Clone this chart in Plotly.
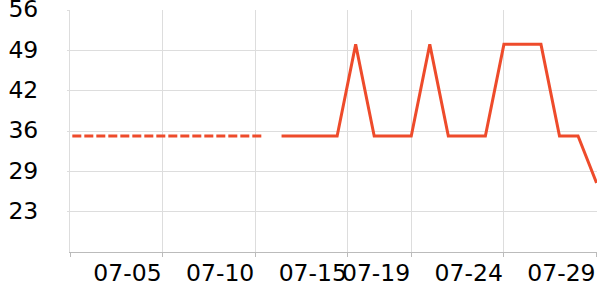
import plotly.graph_objects as go

# Data
dashed_dates = ["2024-06-30 17:00", "2024-07-11 00:00"]
dashed_values = [35, 35]

solid_dates = ["2024-07-%02d" % d for d in range(12, 30)]
solid_values = [35, 35, 35, 35, 50, 35, 35, 35, 50, 35, 35, 35, 50, 50, 50, 35, 35, 27.3]

tick_dates = ["2024-06-30 14:00", "2024-07-05 14:00", "2024-07-10 14:00",
              "2024-07-15 14:00", "2024-07-19", "2024-07-24", "2024-07-29"]
tick_labels = ["", "07-05", "07-10", "07-15", "07-19", "07-24", "07-29"]

y_ticks = [22.6, 29.2, 35.8, 42.4, 49.0, 55.6]

color = "#ee4b2b"

fig = go.Figure()
fig.add_trace(go.Scatter(x=dashed_dates, y=dashed_values, mode="lines",
                         line=dict(color=color, width=3, dash="9px,3px"),
                         hoverinfo="skip", showlegend=False))
fig.add_trace(go.Scatter(x=solid_dates, y=solid_values, mode="lines",
                         line=dict(color=color, width=3),
                         showlegend=False))

font = dict(family="DejaVu Sans", size=23.5, color="#000")
fig.update_layout(
    width=600, height=300,
    margin=dict(l=70, r=3, t=10, b=47.5, pad=0),
    paper_bgcolor="white", plot_bgcolor="white",
    xaxis=dict(type="date", range=["2024-06-30 14:00", "2024-07-29 00:34"],
               tickvals=tick_dates, ticktext=tick_labels,
               ticklabelposition="outside left", tickangle=0,
               showgrid=True, gridcolor="#dddddd", gridwidth=1,
               showline=True, linecolor="#bbbbbb", linewidth=1,
               ticks="outside", ticklen=4, tickcolor="#bbbbbb",
               tickfont=font, zeroline=False, ticklabeloverflow="allow",
               automargin=False),
    yaxis=dict(range=[16, 55.62], tickvals=y_ticks, tickformat=".0f",
               showgrid=True, gridcolor="#dddddd", gridwidth=1,
               showline=True, linecolor="#dddddd", linewidth=1,
               ticks="outside", ticklen=2, tickcolor="#dddddd",
               tickfont=font, zeroline=False, ticklabelstandoff=24,
               ticklabelshift=-1,
               ticklabeloverflow="allow", automargin=False),
)

fig.write_html("out.html")
